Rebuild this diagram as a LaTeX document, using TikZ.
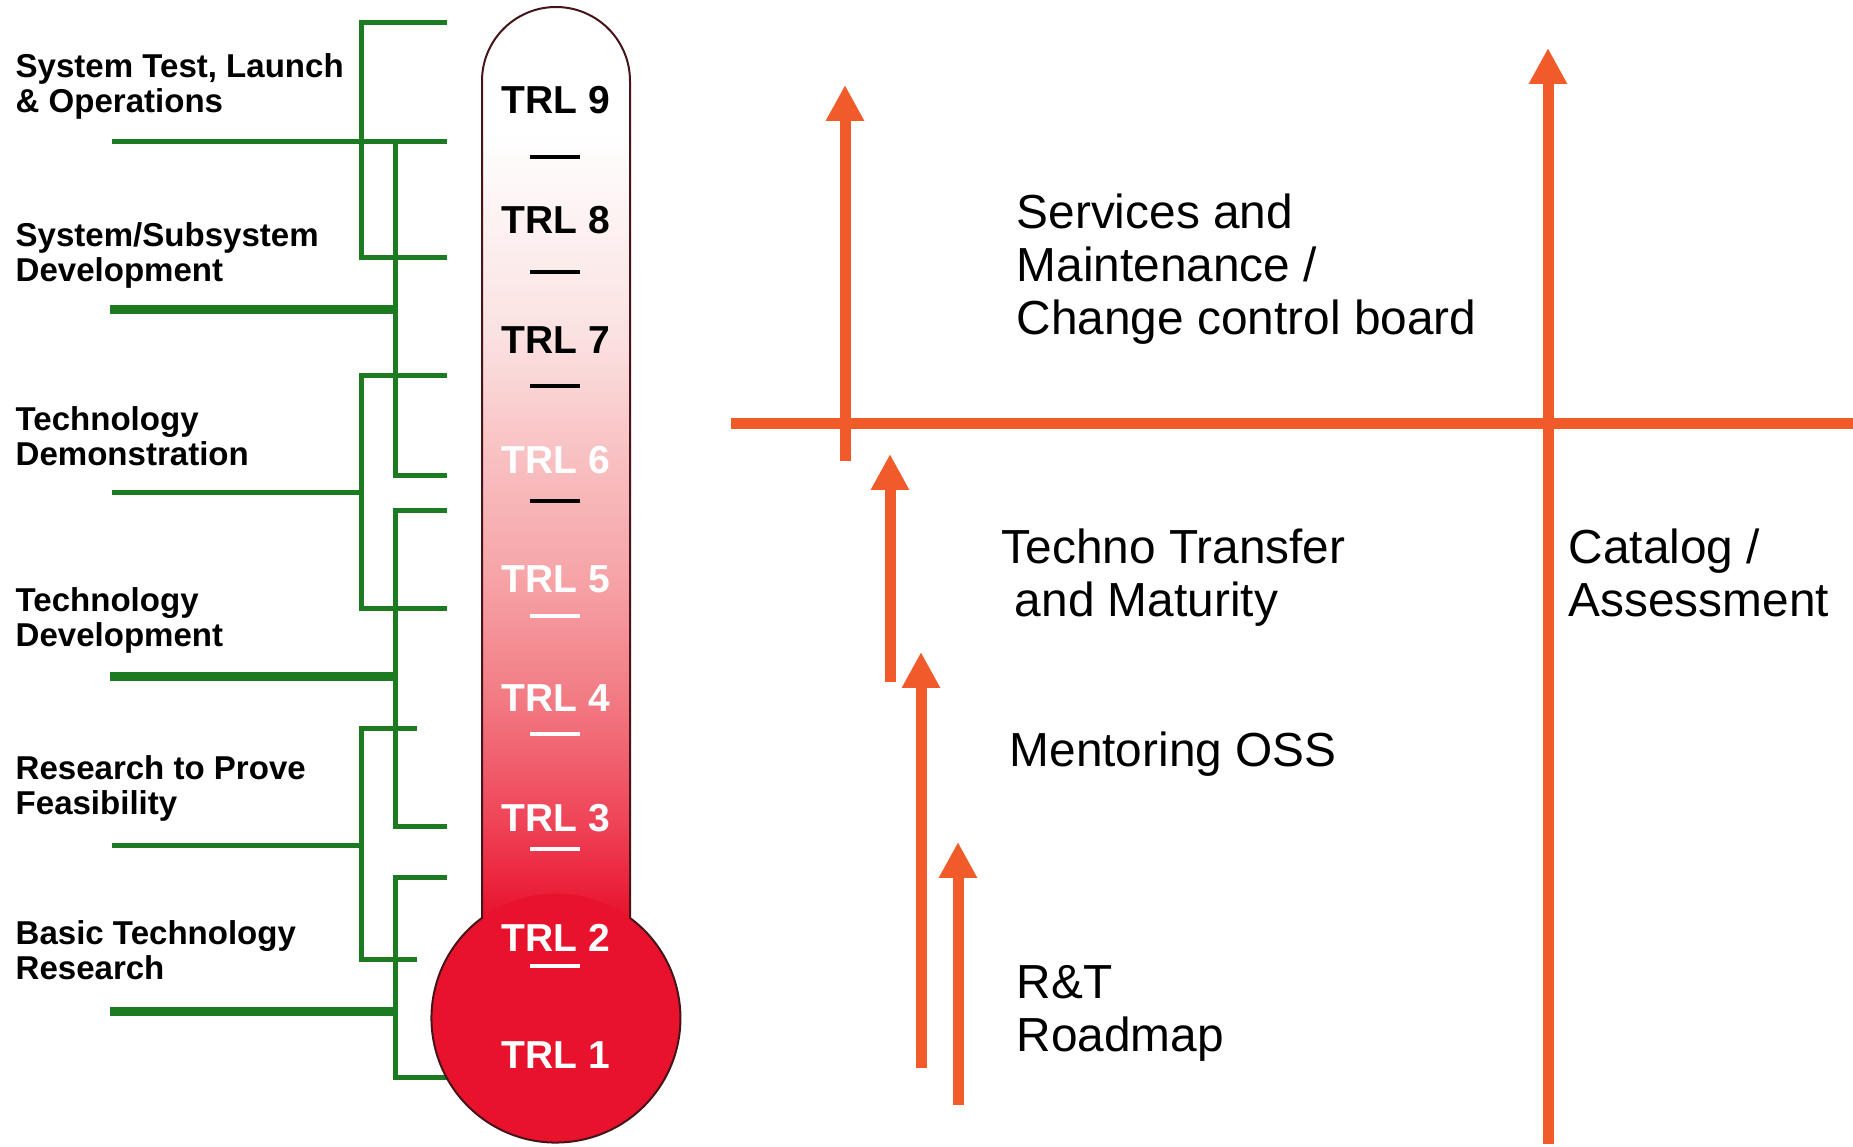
\documentclass[tikz,border=0pt]{standalone}
\usepackage{fontspec}
\setmainfont{Liberation Sans}
\usetikzlibrary{arrows.meta}
\definecolor{trlgreen}{RGB}{28,122,32}
\definecolor{trlred}{RGB}{232,18,45}
\definecolor{trlline}{RGB}{70,20,25}
\definecolor{roadorange}{RGB}{241,90,41}
\definecolor{tubeB}{RGB}{239,69,88}
\definecolor{tubeC}{RGB}{242,122,131}
\definecolor{tubeD}{RGB}{246,163,166}
\definecolor{tubeE}{RGB}{248,191,193}
\definecolor{tubeF}{RGB}{251,224,224}
\definecolor{tubeG}{RGB}{253,242,242}
\pgfdeclareverticalshading{tubeshade}{100bp}{color(0bp)=(trlred); color(25bp)=(trlred);
  color(30.4bp)=(tubeB); color(37bp)=(tubeC); color(43.5bp)=(tubeD); color(50.1bp)=(tubeE);
  color(56.7bp)=(tubeF); color(63.3bp)=(tubeG); color(68.2bp)=(white); color(100bp)=(white)}
\tikzset{
  bracket/.style={draw=trlgreen, line width=0.5mm},
  phasestem/.style={draw=trlgreen, line width=0.9mm},
  axisline/.style={draw=roadorange, line width=1.1mm},
  uparrow/.style={axisline, -{Triangle[width=3.6mm,length=3.6mm]}},
  trllabel/.style={font=\bfseries\fontsize{11.1}{12}\selectfont, inner sep=0, anchor=base},
  phase/.style={font=\bfseries\fontsize{9.4}{10}\selectfont, align=left, inner sep=0, anchor=base west},
  activity/.style={font=\fontsize{13.6}{15.2}\selectfont, align=left, inner sep=0, anchor=base west},
}
\begin{document}
\begin{tikzpicture}[x=0.1mm, y=0.1mm]
    \useasboundingbox (0,0) rectangle (1853,1147);

    % coordinates to be reused
    \coordinate (bulb) at (556,129);
    \coordinate (gridW) at (731,723);
    \coordinate (gridE) at (1853,723);
    \coordinate (svcFoot) at (845,686);
    \coordinate (svcHead) at (845,1062);
    \coordinate (catFoot) at (1548,3);
    \coordinate (catHead) at (1548,1099);
    \coordinate (ttFoot) at (890,465);
    \coordinate (ttHead) at (890,693);
    \coordinate (ossFoot) at (921,79);
    \coordinate (ossHead) at (921,495);
    \coordinate (rtFoot) at (958,42);
    \coordinate (rtHead) at (958,305);

    % green brackets
    \draw [bracket] (447,1124) -- (361,1124) -- (361,889) -- (447,889);
    \draw [bracket] (112,1005) -- (447,1005);
    \draw [bracket] (395,1005) -- (395,671) -- (447,671);
    \draw [phasestem] (110,837) -- (395,837);
    \draw [bracket] (447,771) -- (361,771) -- (361,538) -- (447,538);
    \draw [bracket] (112,654) -- (361,654);
    \draw [bracket] (447,636) -- (395,636) -- (395,320) -- (447,320);
    \draw [phasestem] (110,470) -- (395,470);
    \draw [bracket] (417,418) -- (361,418) -- (361,187) -- (417,187);
    \draw [bracket] (112,301) -- (361,301);
    \draw [bracket] (447,269) -- (395,269) -- (395,69) -- (447,69);
    \draw [phasestem] (110,135) -- (395,135);

    % draw thermometer
    \fill [shading=tubeshade] (482,229) -- (482,1066) arc [start angle=180, end angle=0, radius=74] -- (630,229) -- cycle;
    \fill [trlred] (bulb) circle [radius=124.5];
    \draw [trlline, line width=0.2mm] (482,229) -- (482,1066) arc [start angle=180, end angle=0, radius=74]
      -- (630,229) arc [start angle=53.5, end angle=-233.5, radius=124.5] -- cycle;
    \draw [black, line width=0.35mm] (530,990) -- (580,990);
    \draw [black, line width=0.35mm] (530,875) -- (580,875);
    \draw [black, line width=0.35mm] (530,761) -- (580,761);
    \draw [black, line width=0.35mm] (530,646) -- (580,646);
    \draw [white, line width=0.35mm] (530,531) -- (580,531);
    \draw [white, line width=0.35mm] (530,413) -- (580,413);
    \draw [white, line width=0.35mm] (530,298) -- (580,298);
    \draw [white, line width=0.35mm] (530,181) -- (580,181);

    % roadmap axes and arrows
    \draw [axisline] (gridW) -- (gridE);
    \draw [uparrow] (svcFoot) -- (svcHead);
    \draw [uparrow] (catFoot) -- (catHead);
    \draw [uparrow] (ttFoot) -- (ttHead);
    \draw [uparrow] (ossFoot) -- (ossHead);
    \draw [uparrow] (rtFoot) -- (rtHead);

    % add labels (multi-line nodes sit on their last line)
    \node [trllabel, black] (trl9) at (556,1033) {TRL 9};
    \node [trllabel, black] (trl8) at (556,913) {TRL 8};
    \node [trllabel, black] (trl7) at (556,793) {TRL 7};
    \node [trllabel, white] (trl6) at (556,673) {TRL 6};
    \node [trllabel, white] (trl5) at (556,554) {TRL 5};
    \node [trllabel, white] (trl4) at (556,435) {TRL 4};
    \node [trllabel, white] (trl3) at (556,315) {TRL 3};
    \node [trllabel, white] (trl2) at (556,195) {TRL 2};
    \node [trllabel, white] (trl1) at (556,78) {TRL 1};
    \node [phase] (sysTest) at (15,1034) {System Test, Launch\\\& Operations};
    \node [phase] (sysDev) at (15,865) {System/Subsystem\\Development};
    \node [phase] (techDemo) at (15,681) {Technology\\Demonstration};
    \node [phase] (techDev) at (15,500) {Technology\\Development};
    \node [phase] (feasible) at (15,332) {Research to Prove\\Feasibility};
    \node [phase] (basic) at (15,167) {Basic Technology\\Research};
    \node [activity] (services) at (1016,812) {Services and\\Maintenance /\\Change control board};
    \node [activity] (transfer) at (1001,530) {Techno Transfer\\\mbox{} and Maturity};
    \node [activity] (catalog) at (1568,530) {Catalog /\\Assessment};
    \node [activity] (mentoring) at (1009,380) {Mentoring OSS};
    \node [activity] (roadmap) at (1016,95) {R\&T\\Roadmap};
\end{tikzpicture}
\end{document}
